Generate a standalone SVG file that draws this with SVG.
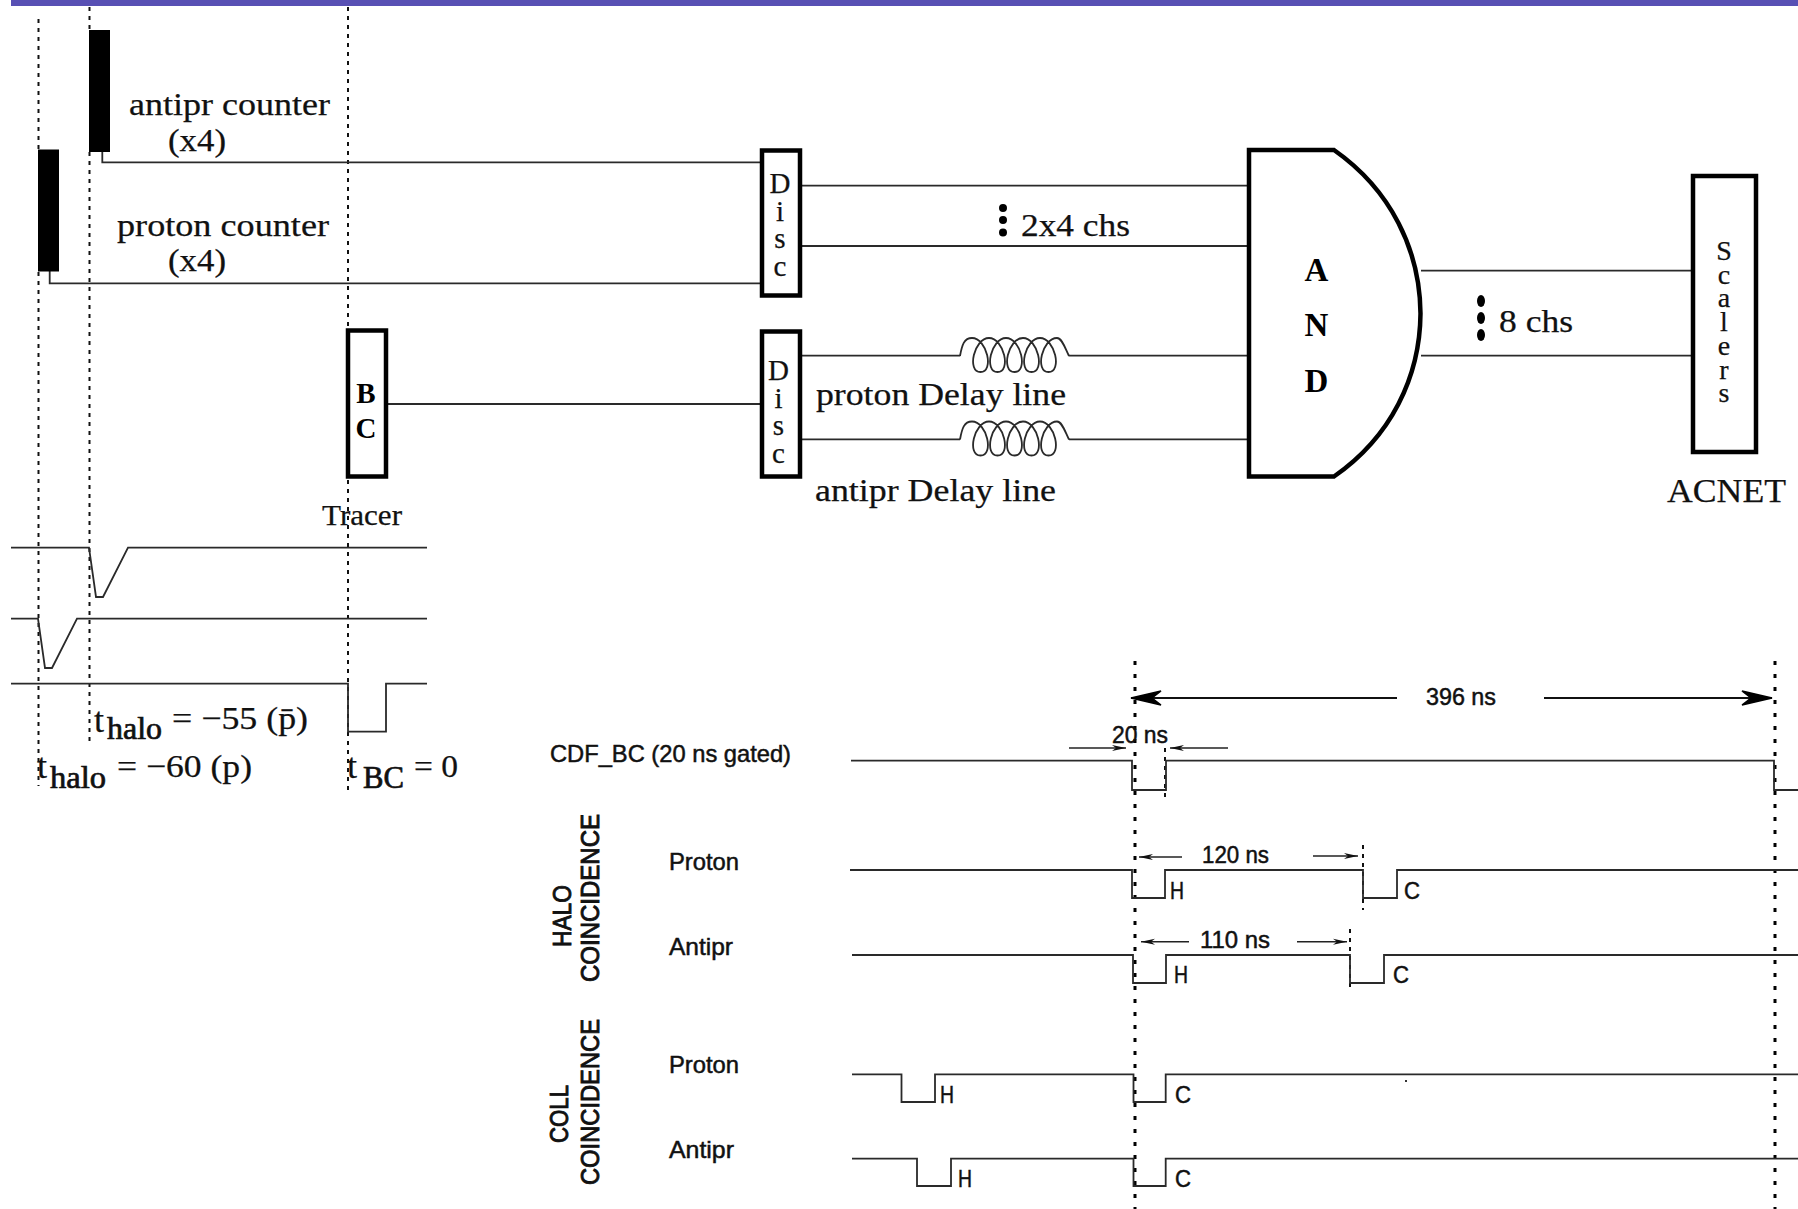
<svg xmlns="http://www.w3.org/2000/svg" xmlns:xlink="http://www.w3.org/1999/xlink" width="1798" height="1209" viewBox="0 0 1798 1209">
<style>
.s{font-family:"Liberation Serif",serif;fill:#111;stroke:#111;stroke-width:.25}
.b{font-family:"Liberation Serif",serif;fill:#000;font-weight:bold}
.g{font-family:"Liberation Sans",sans-serif;fill:#111;stroke:#111;stroke-width:.5}
.h{font-family:"Liberation Sans",sans-serif;fill:#111;stroke:#111;stroke-width:.9}
.v{writing-mode:vertical-rl;text-orientation:upright}
.l{fill:none;stroke:#2a2a2a;stroke-width:1.8}
.box{fill:#fff;stroke:#000;stroke-width:4.5}
.d{fill:none;stroke:#111;stroke-width:2;stroke-dasharray:4 5}
.d2{fill:none;stroke:#000;stroke-width:3;stroke-dasharray:4 9}
.a{fill:none;stroke:#222;stroke-width:1.6}
.big{fill:none;stroke:#111;stroke-width:2.2}
</style>
<defs>
<marker id="bigHead" markerUnits="userSpaceOnUse" markerWidth="36" markerHeight="20" refX="32" refY="10" orient="auto">
<path d="M2 3L32 10L2 17L11 10Z" fill="#000" stroke="#000" stroke-width="1.500"/>
</marker>
<marker id="smallHead" markerUnits="userSpaceOnUse" markerWidth="18" markerHeight="10" refX="16" refY="5" orient="auto">
<path d="M2 2L16 5L2 8L6 5Z" fill="#111"/>
</marker>
<path id="coil" class="l" d="M960 356C962 345 964 338 972 338C987 338 994.500 372 980.500 372C966.500 372 974 338 989 338C1004 338 1011.500 372 997.500 372C983.500 372 991 338 1006 338C1021 338 1028.500 372 1014.500 372C1000.500 372 1008 338 1023 338C1038 338 1045.500 372 1031.500 372C1017.500 372 1025 338 1040 338C1055 338 1062.500 372 1048.500 372C1034.500 372 1042 338 1057 338C1062 338 1065 348 1069 356"/>
</defs>
<rect width="1798" height="1209" fill="#fff"/>
<rect id="top-bar" x="11" y="0" width="1787" height="6" fill="#5850b4"/>

<g id="guides">
<path class="d" d="M38.500 19V150M38.500 272V786"/>
<path class="d" d="M89.500 7V30M89.500 152V742"/>
<path class="d" d="M348 7V328M348 480V790"/>
<path class="d2" d="M1135 661V1209"/>
<path class="d2" d="M1775 661V1209"/>
<path class="d" d="M1165 748V802"/>
<path class="d" d="M1363 845V910"/>
<path class="d" d="M1350 929V991"/>
</g>

<g id="connectors">
<path class="l" d="M102.300 152V162.300H761"/>
<path class="l" d="M49.700 271V283.300H761"/>
<path class="l" d="M388 404H761"/>
<path class="l" d="M800 185.700H1250M800 246H1250"/>
<path class="l" d="M800 355.700H960M1069 355.700H1250"/>
<path class="l" d="M800 439.300H960M1069 439.300H1250"/>
<use xlink:href="#coil" href="#coil"/>
<use xlink:href="#coil" href="#coil" y="83.500"/>
<path class="l" d="M1421 270.700H1692M1421 355.700H1692"/>
</g>

<g id="antipr-counter">
<rect x="89" y="30" width="21" height="122" fill="#000"/>
<text class="s" x="129" y="115" font-size="31" textLength="201" lengthAdjust="spacingAndGlyphs">antipr counter</text>
<text class="s" x="168" y="151" font-size="31" textLength="58" lengthAdjust="spacingAndGlyphs">(x4)</text>
</g>
<g id="proton-counter">
<rect x="38" y="149.500" width="21" height="122" fill="#000"/>
<text class="s" x="117" y="236" font-size="31" textLength="212" lengthAdjust="spacingAndGlyphs">proton counter</text>
<text class="s" x="168" y="271" font-size="31" textLength="58" lengthAdjust="spacingAndGlyphs">(x4)</text>
</g>
<g id="bc">
<rect class="box" x="348" y="330.500" width="38" height="146"/>
<text class="b" font-size="29" text-anchor="middle"><tspan x="366" y="403">B</tspan><tspan x="366" y="438">C</tspan></text>
</g>
<text id="tracer" class="s" x="322" y="525" font-size="29" textLength="80" lengthAdjust="spacingAndGlyphs">Tracer</text>
<g id="disc-1">
<rect class="box" x="762" y="150.500" width="38" height="145"/>
<text class="s v" x="780" y="167" font-size="29" letter-spacing="-4.400">Disc</text>
</g>
<g id="disc-2">
<rect class="box" x="762" y="331.500" width="38" height="145"/>
<text class="s v" x="778.500" y="354" font-size="29" letter-spacing="-4.400">Disc</text>
</g>
<g id="labels-delay">
<path d="M1003 208m-4 0a4 4 0 1 0 8 0a4 4 0 1 0-8 0M1003 220m-4 0a4 4 0 1 0 8 0a4 4 0 1 0-8 0M1003 232.500m-4 0a4 4 0 1 0 8 0a4 4 0 1 0-8 0" fill="#000"/>
<text class="s" x="1021" y="236" font-size="31" textLength="109" lengthAdjust="spacingAndGlyphs">2x4 chs</text>
<text class="s" x="816" y="405" font-size="31" textLength="250" lengthAdjust="spacingAndGlyphs">proton Delay line</text>
<text class="s" x="815" y="501" font-size="31" textLength="241" lengthAdjust="spacingAndGlyphs">antipr Delay line</text>
</g>
<g id="and-gate">
<path d="M1249 150H1334C1391 190 1420 250 1420.500 313.500C1420 377 1391 437 1334 476.500H1249Z" fill="#fff" stroke="#000" stroke-width="4.500"/>
<text class="b" font-size="33" text-anchor="middle"><tspan x="1316.500" y="281">A</tspan><tspan x="1316.500" y="336">N</tspan><tspan x="1316.500" y="392">D</tspan></text>
</g>
<g id="scalers">
<rect class="box" x="1693" y="176" width="63" height="276"/>
<text class="s v" x="1724" y="235" font-size="28" letter-spacing="-7.300">Scalers</text>
</g>
<text id="acnet" class="s" x="1667" y="502" font-size="34" textLength="119" lengthAdjust="spacingAndGlyphs">ACNET</text>
<g id="eight-chs">
<ellipse cx="1481" cy="301" rx="4" ry="6"/><ellipse cx="1481" cy="318" rx="4" ry="6"/><ellipse cx="1481" cy="335" rx="4" ry="6"/>
<text class="s" x="1499" y="332" font-size="31" textLength="74" lengthAdjust="spacingAndGlyphs">8 chs</text>
</g>

<g id="pulses">
<path class="l" d="M11 547.700H89L96 597H103L128 547.700H427"/>
<path class="l" d="M11 618.700H38L45 668H52L77 618.700H427"/>
<path class="l" d="M11 683.700H348V731.700H386V683.700H427"/>
<text class="s" x="94" y="732" font-size="36">t</text>
<text class="s" style="stroke-width:.7" x="107" y="739" font-size="31" textLength="55" lengthAdjust="spacingAndGlyphs">halo</text>
<text class="s" x="172" y="729" font-size="32" textLength="136" lengthAdjust="spacingAndGlyphs">= −55 (p̄)</text>
<text class="s" x="37" y="778" font-size="36">t</text>
<text class="s" style="stroke-width:.7" x="50" y="788" font-size="31" textLength="56" lengthAdjust="spacingAndGlyphs">halo</text>
<text class="s" x="117" y="777" font-size="32" textLength="135" lengthAdjust="spacingAndGlyphs">= −60 (p)</text>
<text class="s" x="347" y="778" font-size="36">t</text>
<text class="s" style="stroke-width:.7" x="363" y="788" font-size="31" textLength="41" lengthAdjust="spacingAndGlyphs">BC</text>
<text class="s" x="414" y="777" font-size="32" textLength="44" lengthAdjust="spacingAndGlyphs">= 0</text>
</g>

<g id="timing">
<path class="big" d="M1397 698H1131" marker-end="url(#bigHead)"/>
<path class="big" d="M1544 698H1772" marker-end="url(#bigHead)"/>
<text class="g" x="1426" y="705" font-size="24" textLength="70" lengthAdjust="spacingAndGlyphs">396 ns</text>
<text class="g" x="1112" y="743" font-size="24" textLength="56" lengthAdjust="spacingAndGlyphs">20 ns</text>
<path class="a" d="M1069 748H1126" marker-end="url(#smallHead)"/>
<path class="a" d="M1228 748H1170" marker-end="url(#smallHead)"/>
<path class="a" d="M1182 857H1139" marker-end="url(#smallHead)"/>
<path class="a" d="M1313 856H1358" marker-end="url(#smallHead)"/>
<path class="a" d="M1189 941.700H1141" marker-end="url(#smallHead)"/>
<path class="a" d="M1297 941.700H1347" marker-end="url(#smallHead)"/>
<text class="g" x="1202" y="863" font-size="24" textLength="67" lengthAdjust="spacingAndGlyphs">120 ns</text>
<text class="g" x="1200" y="948" font-size="24" textLength="70" lengthAdjust="spacingAndGlyphs">110 ns</text>

<path class="l" d="M851 760.700H1132V790H1166V760.700H1774V790H1798"/>
<path class="l" d="M850 870H1132V898H1165V870H1363V898H1397V870H1798"/>
<path class="l" d="M852 955H1133V983H1166V955H1350V983H1384V955H1798"/>
<path class="l" d="M852 1074.300H901.500V1102H935V1074.300H1133.500V1102H1165.700V1074.300H1798"/>
<path class="l" d="M852 1158.700H917V1186H951V1158.700H1133.500V1186H1165.700V1158.700H1798"/>
<rect x="1405" y="1080" width="2" height="2" fill="#333"/>

<text class="g" x="550" y="762" font-size="24" textLength="241" lengthAdjust="spacingAndGlyphs">CDF_BC (20 ns gated)</text>
<text class="g" x="669" y="870" font-size="24" textLength="70" lengthAdjust="spacingAndGlyphs">Proton</text>
<text class="g" x="669" y="955" font-size="24" textLength="64" lengthAdjust="spacingAndGlyphs">Antipr</text>
<text class="g" x="669" y="1073" font-size="24" textLength="70" lengthAdjust="spacingAndGlyphs">Proton</text>
<text class="g" x="669" y="1158" font-size="24" textLength="65" lengthAdjust="spacingAndGlyphs">Antipr</text>
<g class="g" font-size="24">
<text x="1170" y="899" textLength="14" lengthAdjust="spacingAndGlyphs">H</text><text x="1404" y="899" textLength="16" lengthAdjust="spacingAndGlyphs">C</text>
<text x="1174" y="983" textLength="14" lengthAdjust="spacingAndGlyphs">H</text><text x="1393" y="983" textLength="16" lengthAdjust="spacingAndGlyphs">C</text>
<text x="940" y="1103" textLength="14" lengthAdjust="spacingAndGlyphs">H</text><text x="1175" y="1103" textLength="16" lengthAdjust="spacingAndGlyphs">C</text>
<text x="958" y="1187" textLength="14" lengthAdjust="spacingAndGlyphs">H</text><text x="1175" y="1187" textLength="16" lengthAdjust="spacingAndGlyphs">C</text>
</g>
<text class="h" font-size="25" transform="translate(571 947) rotate(-90)" textLength="62" lengthAdjust="spacingAndGlyphs">HALO</text>
<text class="h" font-size="25" transform="translate(599 982) rotate(-90)" textLength="168" lengthAdjust="spacingAndGlyphs">COINCIDENCE</text>
<text class="h" font-size="25" transform="translate(568 1143) rotate(-90)" textLength="58" lengthAdjust="spacingAndGlyphs">COLL</text>
<text class="h" font-size="25" transform="translate(599 1185) rotate(-90)" textLength="166" lengthAdjust="spacingAndGlyphs">COINCIDENCE</text>
</g>
</svg>
